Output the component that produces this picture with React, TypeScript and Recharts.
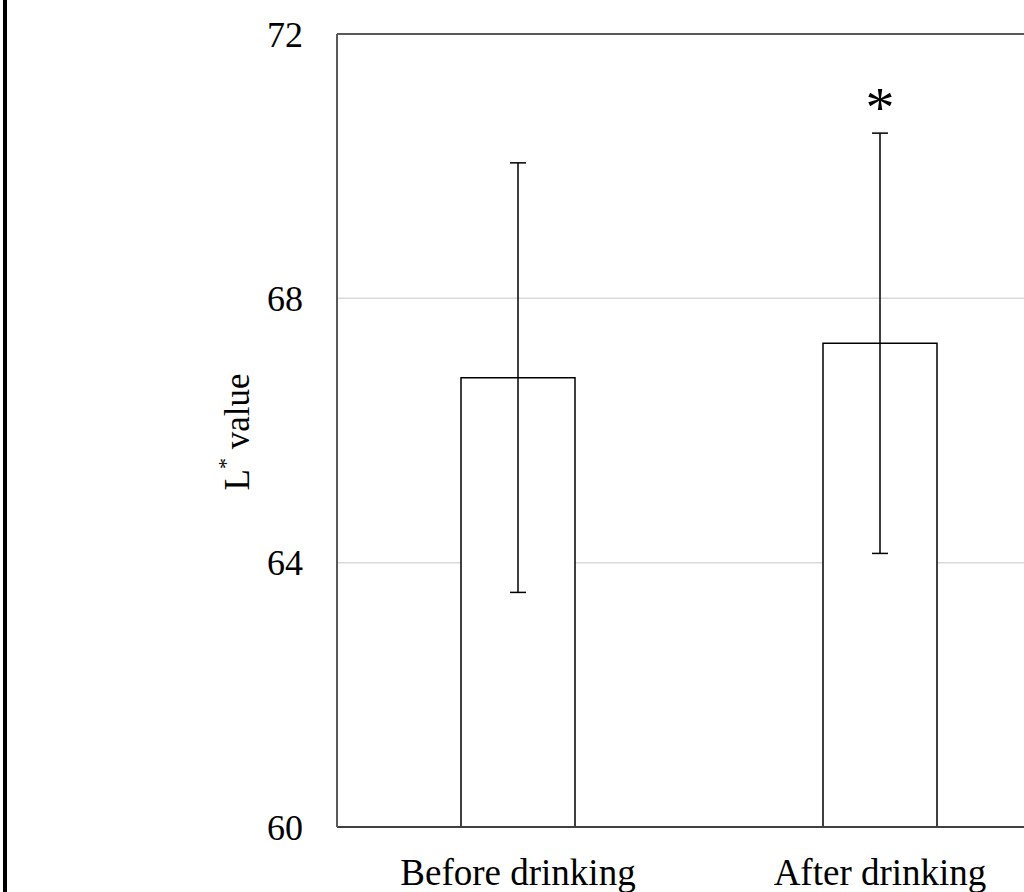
import React from "react";
import {
  BarChart,
  Bar,
  XAxis,
  YAxis,
  CartesianGrid,
  ErrorBar,
  LabelList,
  ReferenceLine,
} from "recharts";

const categories = ["Before drinking", "After drinking"];
const means = [66.8, 67.32];
const errors = [3.25, 3.18];
const marks = ["", "*"];
const yTicks = [60, 64, 68, 72];
const Y_MIN = 60;
const Y_MAX = 72;

const data = categories.map((name, i) => ({
  name,
  mean: means[i],
  err: errors[i],
  mark: marks[i],
}));

const FONT = "'Liberation Serif', 'Times New Roman', serif";

function SigMark(props: any) {
  const { x, y, width, height, value, index } = props;
  if (!value) return null;
  const pxPerUnit = height / (means[index] - Y_MIN);
  const top = y - errors[index] * pxPerUnit;
  return (
    <text
      x={x + width / 2}
      y={top - 6}
      textAnchor="middle"
      fontFamily={FONT}
      fontSize={58}
      fill="#000"
    >
      {value}
    </text>
  );
}

function YLabel() {
  return (
    <text
      x={237}
      y={432}
      transform="rotate(-90 237 432)"
      textAnchor="middle"
      dominantBaseline="central"
      fontFamily={FONT}
      fontSize={35}
      fill="#000"
    >
      L<tspan dy={-12} fontSize={22}>*</tspan>
      <tspan dy={12}> value</tspan>
    </text>
  );
}

export default function App() {
  return (
    <div
      style={{
        position: "absolute",
        left: 0,
        top: 0,
        width: 1024,
        height: 892,
        overflow: "hidden",
        background: "#fff",
      }}
    >
      <div
        style={{
          position: "absolute",
          left: 3,
          top: 0,
          width: 4,
          height: 892,
          background: "#000",
        }}
      />
      <BarChart
        width={1100}
        height={892}
        data={data}
        margin={{ top: 34, right: 39, bottom: 0, left: 0 }}
      >
        <CartesianGrid vertical={false} stroke="#d9d9d9" strokeWidth={1.5} />
        <XAxis
          dataKey="name"
          height={65}
          tickLine={false}
          tickSize={0}
          tickMargin={32}
          axisLine={{ stroke: "#404040", strokeWidth: 2 }}
          tick={{ fontFamily: FONT, fontSize: 37, fill: "#000" }}
        />
        <YAxis
          width={337}
          domain={[Y_MIN, Y_MAX]}
          ticks={yTicks}
          tickLine={false}
          tickSize={0}
          tickMargin={34}
          axisLine={{ stroke: "#595959", strokeWidth: 2 }}
          tick={{ fontFamily: FONT, fontSize: 36, fill: "#000" }}
          label={<YLabel />}
        />
        <ReferenceLine y={Y_MAX} stroke="#595959" strokeWidth={2} />
        <Bar
          dataKey="mean"
          fill="#fff"
          stroke="#000"
          strokeWidth={1.5}
          barSize={114}
          isAnimationActive={false}
        >
          <ErrorBar dataKey="err" width={8} stroke="#000" strokeWidth={1.5} />
          <LabelList dataKey="mark" content={<SigMark />} />
        </Bar>
      </BarChart>
    </div>
  );
}
